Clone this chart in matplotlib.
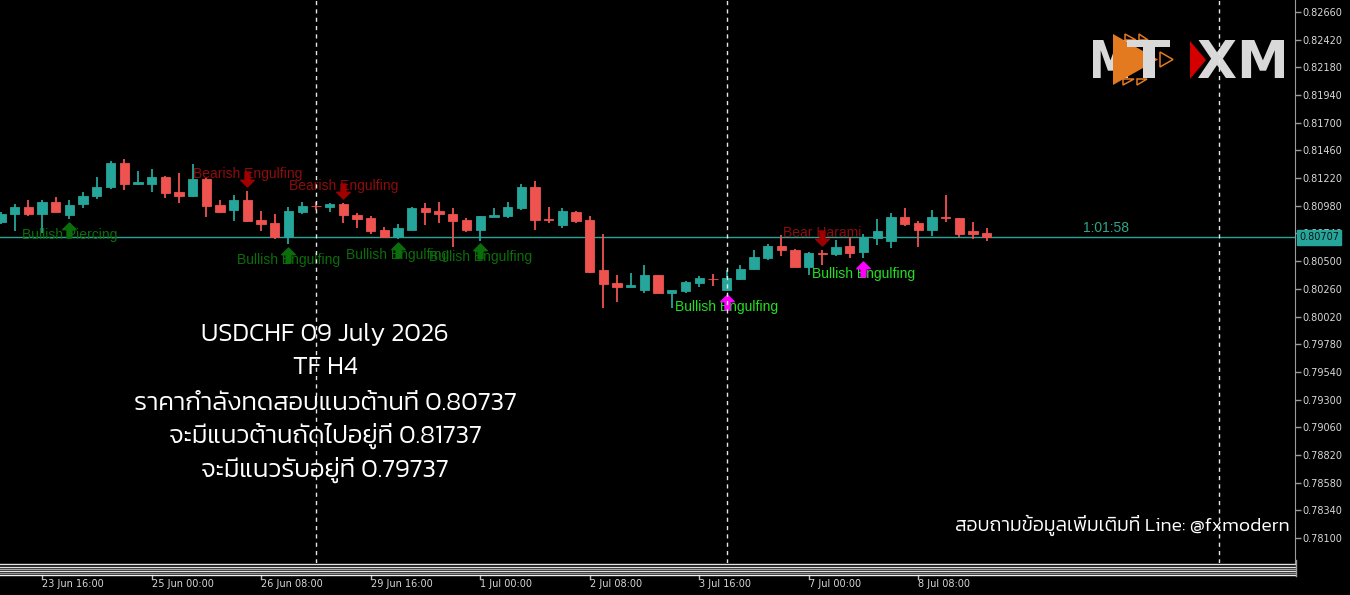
import matplotlib
matplotlib.use("Agg")
import matplotlib.pyplot as plt
import matplotlib.transforms as mtransforms
from matplotlib import font_manager, ft2font
from matplotlib.path import Path
from matplotlib.patches import PathPatch, Polygon
from matplotlib.textpath import TextPath
from matplotlib.font_manager import FontProperties

# USDCHF H4 candles (bar 0 = leftmost visible bar)
opens = [0.80839, 0.80906, 0.80967, 0.80911, 0.81010, 0.80897, 0.80993, 0.81062, 0.81143, 0.81351,
         0.81171, 0.81171, 0.81229, 0.81097, 0.81067, 0.81210, 0.80987, 0.80941, 0.81030, 0.80857,
         0.80828, 0.80707, 0.80929, 0.80978, 0.80967, 0.80993, 0.80903, 0.80874, 0.80770, 0.80707,
         0.80773, 0.80963, 0.80935, 0.80909, 0.80857, 0.80770, 0.80885, 0.80894, 0.80963, 0.81143,
         0.80868, 0.80813, 0.80926, 0.80859, 0.80421, 0.80308, 0.80278, 0.80250, 0.80377, 0.80226,
         0.80244, 0.80308, 0.80349, 0.80250, 0.80345, 0.80429, 0.80525, 0.80629, 0.80597, 0.80452,
         0.80568, 0.80562, 0.80629, 0.80577, 0.80698, 0.80675, 0.80880, 0.80828, 0.80773, 0.80880,
         0.80871, 0.80761, 0.80741]
highs = [0.80926, 0.80993, 0.81030, 0.81030, 0.81059, 0.81030, 0.81097, 0.81229, 0.81371, 0.81386,
         0.81281, 0.81299, 0.81241, 0.81262, 0.81340, 0.81223, 0.81030, 0.81073, 0.81111, 0.80935,
         0.80909, 0.80967, 0.81015, 0.81010, 0.81001, 0.81001, 0.80915, 0.80891, 0.80793, 0.80822,
         0.80968, 0.81001, 0.81010, 0.80958, 0.80871, 0.80891, 0.80958, 0.81015, 0.81169, 0.81195,
         0.80969, 0.80963, 0.80935, 0.80889, 0.80733, 0.80380, 0.80400, 0.80466, 0.80382, 0.80250,
         0.80328, 0.80371, 0.80388, 0.80423, 0.80466, 0.80597, 0.80649, 0.80727, 0.80601, 0.80575,
         0.80597, 0.80683, 0.80707, 0.80733, 0.80865, 0.80917, 0.80963, 0.80851, 0.80943, 0.81073,
         0.80874, 0.80839, 0.80790]
lows = [0.80822, 0.80761, 0.80894, 0.80744, 0.80922, 0.80865, 0.80958, 0.81036, 0.81128, 0.81119,
        0.81160, 0.81102, 0.81045, 0.81007, 0.81053, 0.80883, 0.80920, 0.80848, 0.80842, 0.80761,
        0.80689, 0.80646, 0.80906, 0.80943, 0.80929, 0.80833, 0.80785, 0.80735, 0.80702, 0.80689,
        0.80770, 0.80813, 0.80833, 0.80625, 0.80750, 0.80677, 0.80883, 0.80877, 0.80941, 0.80770,
        0.80833, 0.80785, 0.80831, 0.80397, 0.80091, 0.80148, 0.80276, 0.80226, 0.80224, 0.80091,
        0.80226, 0.80276, 0.80284, 0.80241, 0.80336, 0.80427, 0.80510, 0.80547, 0.80449, 0.80380,
        0.80466, 0.80547, 0.80530, 0.80525, 0.80640, 0.80616, 0.80807, 0.80623, 0.80721, 0.80842,
        0.80712, 0.80689, 0.80675]
closes = [0.80909, 0.80967, 0.80911, 0.81010, 0.80929, 0.80989, 0.81065, 0.81140, 0.81351, 0.81171,
          0.81186, 0.81229, 0.81093, 0.81067, 0.81210, 0.80981, 0.80926, 0.81030, 0.80848, 0.80822,
          0.80707, 0.80935, 0.80978, 0.80974, 0.80993, 0.80900, 0.80868, 0.80764, 0.80707, 0.80785,
          0.80963, 0.80929, 0.80906, 0.80851, 0.80770, 0.80889, 0.80903, 0.80969, 0.81143, 0.80859,
          0.80854, 0.80935, 0.80851, 0.80408, 0.80302, 0.80278, 0.80293, 0.80377, 0.80226, 0.80247,
          0.80316, 0.80354, 0.80345, 0.80354, 0.80434, 0.80533, 0.80629, 0.80594, 0.80452, 0.80571,
          0.80564, 0.80620, 0.80573, 0.80707, 0.80761, 0.80880, 0.80825, 0.80773, 0.80880, 0.80876,
          0.80733, 0.80733, 0.80707]

# time axis labels and the bars they sit on
date_bars = [3, 11, 19, 27, 35, 43, 51, 59, 67]
date_labels = ["23 Jun 16:00", "25 Jun 00:00", "26 Jun 08:00", "29 Jun 16:00", "1 Jul 00:00",
               "2 Jul 08:00", "3 Jul 16:00", "7 Jul 00:00", "8 Jul 08:00"]
price_ticks = [0.82660, 0.82420, 0.82180, 0.81940, 0.81700, 0.81460, 0.81220, 0.80980, 0.80740,
               0.80500, 0.80260, 0.80020, 0.79780, 0.79540, 0.79300, 0.79060, 0.78820, 0.78580,
               0.78340, 0.78100]
vline_bars = [23, 53, 89]
last_price = 0.80707
countdown = "1:01:58"

# candlestick pattern signals
pattern_bars = [5, 18, 21, 25, 29, 35, 53, 60, 63]
pattern_names = ["Bullish Piercing", "Bearish Engulfing", "Bullish Engulfing", "Bearish Engulfing",
                 "Bullish Engulfing", "Bullish Engulfing", "Bullish Engulfing", "Bear Harami",
                 "Bullish Engulfing"]
pattern_bull = [True, False, True, False, True, True, True, False, True]
pattern_new = [False, False, False, False, False, False, True, False, True]

title_lines = ["USDCHF 09 July 2026", "TF H4", "ราคากำลังทดสอบแนวต้านที่ 0.80737",
               "จะมีแนวต้านถัดไปอยู่ที่ 0.81737", "จะมีแนวรับอยู่ที่ 0.79737"]
contact = "สอบถามข้อมูลเพิ่มเติมที่ Line: @fxmodern"

# find a font that has Thai glyphs
thai_pref = ["Kanit", "Prompt", "Mitr", "Sarabun", "Noto Sans Thai", "Noto Sans Thai UI",
             "Noto Sans Thai Looped", "Loma", "Garuda", "Waree", "Umpush", "Sawasdee",
             "Laksaman", "Norasi", "Kinnari", "Tlwg Typo", "Purisa"]
thai_found = []
for f in font_manager.fontManager.ttflist:
    try:
        ft = ft2font.FT2Font(f.fname)
        if ft.get_char_index(0x0E01) and ft.get_char_index(0x0E49):
            thai_found.append(f.name)
    except Exception:
        pass
thai_font = None
for name in thai_pref:
    if name in thai_found:
        thai_font = name
        break
if thai_font is None and thai_found:
    thai_font = sorted(set(thai_found))[0]
thai_family = ([thai_font] if thai_font else []) + ["DejaVu Sans"]

BULL = "#26a69a"
BEAR = "#ef5350"
W, H = 1350, 595

fig = plt.figure(figsize=(13.5, 5.95), dpi=100, facecolor="black")
ax = fig.add_axes([0, 32 / H, 1295 / W, 563 / H])
ax.set_facecolor("black")
px = mtransforms.Affine2D().scale(1 / W, -1 / H).translate(0, 1) + fig.transFigure

n = len(opens)
xs = list(range(n))
cols = [BULL if closes[i] >= opens[i] else BEAR for i in xs]

# wicks then bodies
ax.vlines(xs, lows, highs, colors=cols, linewidth=1.3, zorder=3)
body_lo = [min(opens[i], closes[i]) for i in xs]
body_h = [max(abs(closes[i] - opens[i]), 0.00003) for i in xs]
ax.bar(xs, body_h, bottom=body_lo, width=0.68, color=cols, edgecolor=cols, linewidth=0.6, zorder=4)

# current price line
ax.axhline(last_price, color=BULL, linewidth=1, zorder=2)

# vertical dashed lines
for b in vline_bars:
    ax.axvline(b, color="#e6e6e6", linewidth=1, dashes=(3, 3), zorder=9)

# pattern arrows and labels
up_arrow = Path([(0, 1), (0.9, 0.1), (0.33, 0.1), (0.33, -1), (-0.33, -1), (-0.33, 0.1), (-0.9, 0.1), (0, 1)],
                [Path.MOVETO] + [Path.LINETO] * 6 + [Path.CLOSEPOLY])
down_arrow = Path([(x, -y) for x, y in up_arrow.vertices], up_arrow.codes)
for b, name, bull, new in zip(pattern_bars, pattern_names, pattern_bull, pattern_new):
    if bull:
        tcol = "#22e022" if new else "#0b6e0b"
        acol = "#ff00ff" if new else "#0b6e0b"
        tr = mtransforms.offset_copy(ax.transData, fig=fig, x=0, y=-10.5, units="dots")
        ax.plot([b], [lows[b]], marker=up_arrow, markersize=10.8, color=acol, linestyle="none",
                transform=tr, zorder=7, clip_on=False)
        ax.annotate(name, (b, lows[b]), xytext=(0, -16), textcoords="offset pixels", ha="center",
                    va="center", color=tcol, fontsize=10, family="Liberation Sans", zorder=6)
    else:
        tr = mtransforms.offset_copy(ax.transData, fig=fig, x=0, y=12, units="dots")
        ax.plot([b], [highs[b]], marker=down_arrow, markersize=10.8, color="#a00000", linestyle="none",
                transform=tr, zorder=7, clip_on=False)
        ax.annotate(name, (b, highs[b]), xytext=(0, 17), textcoords="offset pixels", ha="center",
                    va="center", color="#8e0c0c", fontsize=10, family="Liberation Sans", zorder=6)

# countdown to bar close
ax.annotate(countdown, (n - 1, last_price), xytext=(119, 9.5), textcoords="offset pixels",
            ha="center", va="center", color="#2fa58c", fontsize=10, family="Liberation Sans", zorder=6)

# price scale on the right
ax.yaxis.tick_right()
ax.set_yticks(price_ticks)
ax.set_yticklabels([f"{v:.5f}" for v in price_ticks])
ax.tick_params(axis="y", colors="#9a9a9a", labelcolor="#d8d8d8", labelsize=7, length=4,
               width=1, pad=1.5, direction="out")
ax.set_xticks([])
for s in ["top", "left", "bottom"]:
    ax.spines[s].set_visible(False)
ax.spines["right"].set_color("#9a9a9a")

lp = mtransforms.offset_copy(mtransforms.blended_transform_factory(ax.transAxes, ax.transData),
                             fig=fig, x=4, y=0, units="dots")
ax.text(1.0, last_price, f"{last_price:.5f}", transform=lp, ha="left", va="center", fontsize=7,
        color="#0a1414", zorder=20, clip_on=False,
        bbox=dict(boxstyle="square,pad=0.25", fc=BULL, ec=BULL))

# time scale at the bottom
tx = mtransforms.blended_transform_factory(ax.transData, fig.transFigure)
for b, lab in zip(date_bars, date_labels):
    ax.plot([b, b], [1 - 575 / H, 1 - 579 / H], color="#bdbdbd", linewidth=1, transform=tx, clip_on=False)
    ax.text(b, 1 - 584 / H, lab, transform=tx, ha="left", va="center", fontsize=7,
            color="#d8d8d8", clip_on=False)

# strip of separator lines between chart and time scale
for yy, c in [(564, "#e0e0e0"), (566.5, "#e0e0e0"), (568.7, "#a0a0a0"), (571, "#e0e0e0"),
              (573, "#909090"), (575, "#f0f0f0")]:
    fig.add_artist(plt.Line2D([0, 1295], [yy, yy], color=c, linewidth=1, transform=px))
fig.add_artist(plt.Line2D([1295.5, 1295.5], [560, 576], color="#9a9a9a", linewidth=1, transform=px))

# big text block
for txt, base in zip(title_lines, [340, 374.5, 409.5, 443, 477]):
    ax.text(325 / W, 1 - base / H, txt, transform=fig.transFigure, ha="center", va="baseline",
            color="white", fontsize=18.6, fontweight=300, family=thai_family, zorder=5)
ax.text(1290 / W, 1 - 531 / H, contact, transform=fig.transFigure, ha="right", va="baseline",
        color="white", fontsize=14.0, fontweight=300, family=thai_family, zorder=5)


# logo "MT XM"
def glyph(s, x0, x1, y0, y1, color, z):
    tp = TextPath((0, 0), s, size=10, prop=FontProperties(family="DejaVu Sans", weight="bold"))
    bb = tp.get_extents()
    t = (mtransforms.Affine2D().translate(-bb.x0, -bb.y0)
         .scale((x1 - x0) / bb.width, (y1 - y0) / bb.height)
         .scale(1, -1).translate(x0, y1))
    ax.add_patch(PathPatch(t.transform_path(tp), fc=color, ec="none", transform=px, zorder=z))


LOGO = "#d9d9d9"
ORANGE = "#e37a1f"
glyph("M", 1093, 1128, 40, 78, LOGO, 6)
ax.add_patch(Polygon([(1113, 34), (1113, 85), (1158, 59.5)], closed=True, fc=ORANGE, ec="none",
                     transform=px, zorder=6.1))
glyph("T", 1127, 1170, 40, 78, LOGO, 6.2)
for tri in [[(1125, 34), (1136, 40), (1125, 40)], [(1139, 34), (1148, 40), (1139, 40)],
            [(1160, 52), (1173, 59.5), (1160, 67)], [(1123, 79), (1134, 79), (1123, 85)],
            [(1137, 79), (1147, 79), (1137, 85)]]:
    ax.add_patch(Polygon(tri, closed=True, fc="none", ec=ORANGE, linewidth=1.1, transform=px, zorder=6.1))
glyph("XM", 1198, 1284, 40, 78, LOGO, 6)
ax.add_patch(Polygon([(1190, 41), (1190, 79), (1206, 60)], closed=True, fc="#d40000", ec="none",
                     transform=px, zorder=6.3))

ax.set_xlim(-0.073, 94.52)
ax.set_ylim(0.77883, 0.82764)

fig.savefig("out.png", dpi=100, facecolor="black")
